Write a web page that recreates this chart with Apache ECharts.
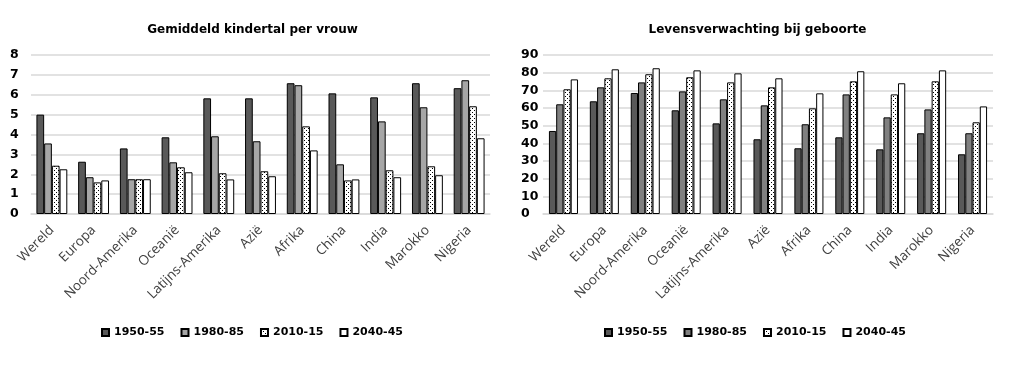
<!DOCTYPE html>
<html>
<head>
<meta charset="utf-8">
<script src="https://cdn.jsdelivr.net/npm/echarts@6/dist/echarts.min.js"></script>
<style>
html,body{margin:0;padding:0;background:#fff;}
#wrap{width:1010px;height:368px;position:relative;}
#c1{position:absolute;left:0;top:0;width:505px;height:368px;}
#c2{position:absolute;left:505px;top:0;width:505px;height:368px;}
</style>
</head>
<body>
<div id="wrap"><div id="c1"></div><div id="c2"></div></div>
<script>
var categories = ['Wereld','Europa','Noord-Amerika','Oceanië','Latijns-Amerika','Azië','Afrika','China','India','Marokko','Nigeria'];
var seriesNames = ['1950-55','1980-85','2010-15','2040-45'];

// Gemiddeld kindertal per vrouw
var kids1950 = [5.0, 2.63, 3.30, 3.86, 5.82, 5.82, 6.58, 6.07, 5.87, 6.58, 6.33];
var kids1980 = [3.55, 1.85, 1.75, 2.60, 3.91, 3.66, 6.48, 2.50, 4.66, 5.37, 6.73];
var kids2010 = [2.43, 1.59, 1.75, 2.35, 2.05, 2.15, 4.41, 1.69, 2.20, 2.40, 5.42];
var kids2040 = [2.25, 1.69, 1.75, 2.10, 1.74, 1.90, 3.20, 1.74, 1.85, 1.95, 3.81];

// Levensverwachting bij geboorte
var life1950 = [47.0, 63.8, 68.5, 58.7, 51.3, 42.3, 37.2, 43.4, 36.6, 45.7, 33.8];
var life1980 = [62.1, 71.7, 74.5, 69.4, 64.9, 61.5, 50.8, 67.7, 54.7, 59.2, 45.7];
var life2010 = [70.6, 76.8, 79.1, 77.4, 74.5, 71.7, 59.8, 75.1, 67.7, 75.1, 51.9];
var life2040 = [76.2, 81.9, 82.5, 81.3, 79.6, 76.8, 68.3, 80.8, 74.0, 81.3, 60.9];

var kidsTicks = [0, 8, 1];
var lifeTicks = [0, 90, 10];

function dotPattern() {
  var c = document.createElement('canvas');
  c.width = 4; c.height = 4;
  var ctx = c.getContext('2d');
  ctx.fillStyle = '#ffffff';
  ctx.fillRect(0, 0, 4, 4);
  ctx.fillStyle = '#000000';
  ctx.fillRect(0, 0, 1, 1);
  ctx.fillRect(2, 2, 1, 1);
  return {image: c, repeat: 'repeat'};
}

function makeOption(title, ticks, data, colors, gridLeft, gridWidth, catGap, labelMargin, legendLeft) {
  var series = data.map(function (d, i) {
    return {
      name: seriesNames[i],
      type: 'bar',
      data: d,
      barGap: '0%',
      barCategoryGap: catGap,
      itemStyle: {color: colors[i], borderColor: '#000', borderWidth: 1},
      emphasis: {disabled: true}
    };
  });
  return {
    animation: false,
    title: {
      text: title, left: 'center', top: 19,
      textStyle: {fontFamily: 'DejaVu Sans', fontWeight: 'bold', fontSize: 12, color: '#000'}
    },
    legend: {
      data: seriesNames, left: legendLeft, top: 322,
      itemWidth: 7, itemHeight: 7, itemGap: 16,
      icon: 'rect',
      textStyle: {fontFamily: 'DejaVu Sans', fontWeight: 'bold', fontSize: 11, color: '#000'}
    },
    grid: {left: gridLeft, top: 55, width: gridWidth, height: 159},
    xAxis: {
      type: 'category', data: categories,
      axisLine: {show: true, lineStyle: {color: '#d9d9d9', width: 1.5}},
      axisTick: {show: false},
      axisLabel: {rotate: 45, interval: 0, margin: 14, fontFamily: 'Open Sans', fontSize: 13.5, color: '#404040'}
    },
    yAxis: {
      type: 'value', min: ticks[0], max: ticks[1], interval: ticks[2],
      axisLine: {show: false}, axisTick: {show: false},
      splitLine: {lineStyle: {color: '#d9d9d9', width: 1.5}},
      axisLabel: {align: 'left', margin: labelMargin, fontFamily: 'DejaVu Sans', fontWeight: 'bold', fontSize: 12.5, color: '#000'}
    },
    series: series
  };
}

var c1 = echarts.init(document.getElementById('c1'));
c1.setOption(makeOption('Gemiddeld kindertal per vrouw', kidsTicks,
  [kids1950, kids1980, kids2010, kids2040],
  ['#595959', '#a6a6a6', dotPattern(), '#ffffff'], 31, 459, '26%', 21, 96));

var c2 = echarts.init(document.getElementById('c2'));
c2.setOption(makeOption('Levensverwachting bij geboorte', lifeTicks,
  [life1950, life1980, life2010, life2040],
  ['#595959', '#808080', dotPattern(), '#ffffff'], 38, 450, '29%', 22, 94));
</script>
</body>
</html>
